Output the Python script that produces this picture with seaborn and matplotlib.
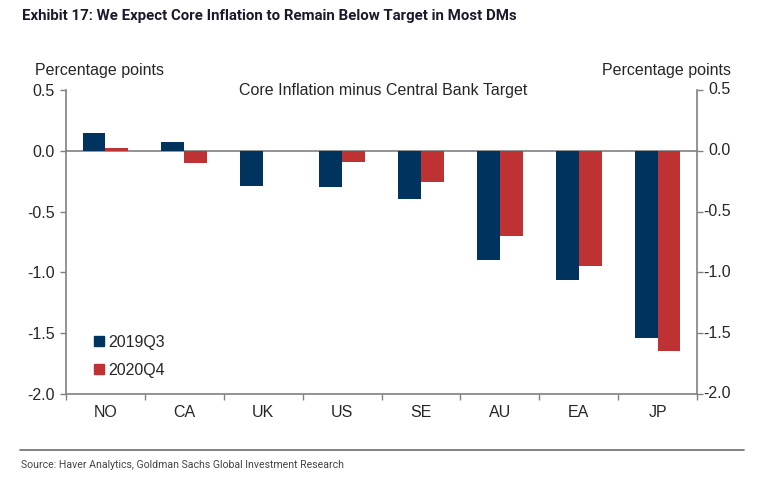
import matplotlib
matplotlib.use("Agg")
import matplotlib.pyplot as plt
import matplotlib.transforms as mtransforms
import seaborn as sns
import pandas as pd
import numpy as np
from matplotlib.patches import Patch

countries = ["NO", "CA", "UK", "US", "SE", "AU", "EA", "JP"]
q2019 = [0.15, 0.07, -0.29, -0.30, -0.40, -0.90, -1.06, -1.54]
q2020 = [0.02, -0.10, np.nan, -0.09, -0.26, -0.70, -0.95, -1.65]
series = ["2019Q3", "2020Q4"]
yticks = [0.5, 0.0, -0.5, -1.0, -1.5, -2.0]

navy = "#00335E"
red = "#BE3234"
grey = "#808080"

df = pd.DataFrame({
    "country": countries * 2,
    "value": q2019 + q2020,
    "series": [series[0]] * len(countries) + [series[1]] * len(countries),
})

sns.set_style("white")
plt.rcParams["font.family"] = ["Liberation Sans", "DejaVu Sans"]
FS = 11.5

fig = plt.figure(figsize=(7.82, 4.79), dpi=100)
ax = fig.add_axes([66 / 782, 1 - 394 / 479, (697 - 66) / 782, (394 - 90) / 479])

sns.barplot(data=df, x="country", y="value", hue="series", order=countries,
            hue_order=series, palette=[navy, red], width=0.58, linewidth=0,
            saturation=1, errorbar=None, ax=ax, legend=False)

ax.set_xlim(-0.5, len(countries) - 0.5)
ax.set_ylim(-2.0, 0.5)
ax.set_yticks(yticks)
ax.set_yticklabels([f"{v:.1f}" for v in yticks])
ax.set_xlabel("")
ax.set_ylabel("")
ax.axhline(0, color=grey, lw=1.2, zorder=0.5)

for s in ["left", "right", "bottom"]:
    ax.spines[s].set_visible(True)
    ax.spines[s].set_color(grey)
    ax.spines[s].set_linewidth(1.2)
ax.spines["top"].set_visible(False)

ax.tick_params(axis="y", which="both", left=True, right=True, labelleft=True,
               labelright=False, length=4, width=1, color=grey, labelsize=FS,
               pad=4, direction="out")

ax.set_xticks(np.arange(len(countries)))
ax.set_xticklabels(countries)
ax.tick_params(axis="x", which="major", length=0, labelsize=FS, pad=8)
ax.set_xticks(np.arange(-0.5, len(countries)), minor=True)
ax.tick_params(axis="x", which="minor", length=4, width=1, color=grey,
               direction="out", bottom=True)

# right-side tick labels, right-aligned like the reference
rtrans = mtransforms.blended_transform_factory(fig.transFigure, ax.transData)
for v in yticks:
    ax.text(731 / 782, v, f"{v:.1f}", fontsize=FS, ha="right", va="center",
            transform=rtrans, clip_on=False)

handles = [Patch(color=navy), Patch(color=red)]
ax.legend(handles, series, loc="upper left", bbox_to_anchor=(0.035, 0.215),
          frameon=False, fontsize=FS, handlelength=0.6, handleheight=0.6,
          handletextpad=0.25, labelspacing=0.8, borderaxespad=0)

fig.text(35 / 782, 1 - 70 / 479, "Percentage points", fontsize=FS, va="center", ha="left")
fig.text(731 / 782, 1 - 70 / 479, "Percentage points", fontsize=FS, va="center", ha="right")
fig.text(383 / 782, 1 - 90 / 479, "Core Inflation minus Central Bank Target", fontsize=FS,
         va="center", ha="center")

fig.text(22 / 782, 1 - 16 / 479,
         "Exhibit 17: We Expect Core Inflation to Remain Below Target in Most DMs",
         fontsize=10.85, fontweight="bold", va="center", ha="left", color="#1a1a2e",
         family=["Roboto", "Liberation Sans", "DejaVu Sans"])
fig.add_artist(plt.Line2D([20 / 782, 744 / 782], [1 - 450 / 479, 1 - 450 / 479],
                          color="#6d6d6d", lw=1.2, transform=fig.transFigure))
fig.text(21 / 782, 1 - 465 / 479,
         "Source: Haver Analytics, Goldman Sachs Global Investment Research",
         fontsize=7.6, va="center", ha="left", color="#444444",
         family=["Roboto", "Liberation Sans", "DejaVu Sans"])

fig.savefig("out.png", dpi=100)
